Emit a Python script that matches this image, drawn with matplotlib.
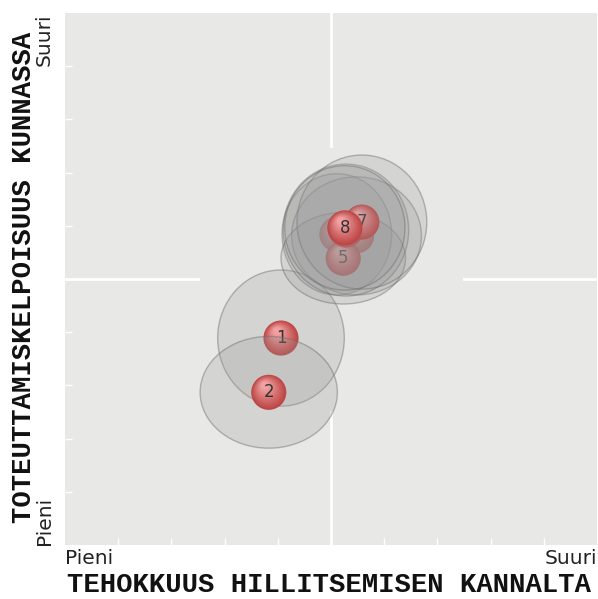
import numpy as np
import matplotlib.pyplot as plt
from matplotlib.patches import Ellipse, Circle

# item numbers and positions (0..10 scale)
labels = ['1', '2', '3', '4', '5', '6', '7', '8']
x_vals = [4.06, 3.83, 5.11, 5.48, 5.23, 5.28, 5.58, 5.26]
y_vals = [3.89, 2.87, 5.84, 5.81, 5.39, 5.92, 6.07, 5.96]
# spread of the answers (half widths of the grey ellipses)
x_spread = [1.19, 1.29, 1.03, 1.22, 1.17, 1.18, 1.22, 1.13]
y_spread = [1.28, 1.05, 1.14, 1.11, 0.86, 1.24, 1.26, 1.17]

x_title = 'TEHOKKUUS HILLITSEMISEN KANNALTA'
y_title = 'TOTEUTTAMISKELPOISUUS KUNNASSA'
low_label = 'Pieni'
high_label = 'Suuri'

fig = plt.figure(figsize=(5.98, 5.99), dpi=100)
ax = fig.add_axes([65 / 598, 54 / 599, 532 / 598, 532 / 599])
ax.set_facecolor('#e8e9e6')
for s in ax.spines.values():
    s.set_visible(False)
ax.set_xlim(0, 10)
ax.set_ylim(0, 10)

# white quadrant lines, only the outer quarters
for a, b in [(0, 0.25), (0.75, 1)]:
    ax.axhline(5, a, b, color='white', lw=2, zorder=1)
    ax.axvline(5, a, b, color='white', lw=2, zorder=1)

ticks = [1, 2, 3, 4, 6, 7, 8, 9]
ax.set_xticks(ticks)
ax.set_yticks(ticks)
ax.set_xticklabels([])
ax.set_yticklabels([])
ax.tick_params(direction='in', color='white', length=5, width=1)

r = 0.33
base = np.array([0.74, 0.27, 0.27])
light = np.array([0.96, 0.66, 0.66])
n = 14
for i in range(len(labels)):
    z = 2 + 2 * i
    ax.add_patch(Ellipse((x_vals[i], y_vals[i]), 2 * x_spread[i], 2 * y_spread[i],
                         facecolor=(0.6, 0.6, 0.6, 0.25),
                         edgecolor=(0.42, 0.42, 0.42, 0.45), lw=1, zorder=z))
    # sphere-like marker
    for k in range(n):
        t = k / n
        col = base * (1 - t) + light * t
        rr = r * (1 - 0.85 * t)
        ax.add_patch(Circle((x_vals[i] - 0.08 * t, y_vals[i] + 0.14 * t), rr,
                            facecolor=col, edgecolor='none', zorder=z + 1))
    ax.text(x_vals[i], y_vals[i], labels[i], ha='center', va='center',
            fontsize=12, color='#333333', zorder=z + 1)

# axis end labels
fig.text(65 / 598, 1 - 559 / 599, low_label, ha='left', va='center', fontsize=14.5, color='#222222')
fig.text(597 / 598, 1 - 559 / 599, high_label, ha='right', va='center', fontsize=14.5, color='#222222')
fig.text(44 / 598, 1 - 545 / 599, low_label, ha='center', va='bottom', rotation=90,
         fontsize=14.5, color='#222222')
fig.text(44 / 598, 1 - 13 / 599, high_label, ha='center', va='top', rotation=90,
         fontsize=14.5, color='#222222')

fig.text(329 / 598, 1 - 585 / 599, x_title, ha='center', va='center',
         family='Liberation Mono', weight='bold', fontsize=19.6, color='#111111')
fig.text(24 / 598, 1 - 277 / 599, y_title, ha='center', va='center', rotation=90,
         family='Liberation Mono', weight='bold', fontsize=19.6, color='#111111')

fig.savefig('out.png', dpi=100)
